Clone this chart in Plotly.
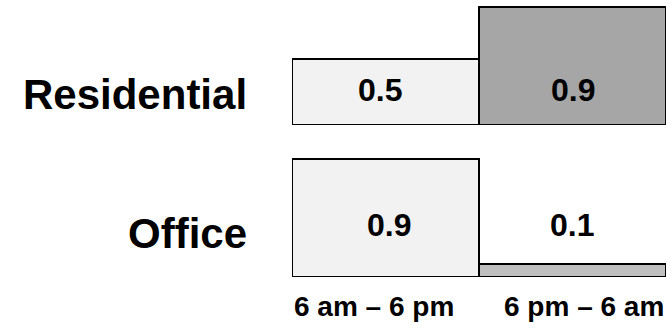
import plotly.graph_objects as go

# ---- data ----
periods = ["6 am – 6 pm", "6 pm – 6 am"]
categories = ["Residential", "Office"]
residential = [0.5, 0.9]
office = [0.9, 0.1]

# ---- styles ----
FONT = "Liberation Sans, Arial, Helvetica, sans-serif"
res_colors = ["#f2f2f2", "#a6a6a6"]
off_colors = ["#f2f2f2", "#bfbfbf"]
res_label_shift = [-6, 0]
off_label_shift = [3, -1]

fig = go.Figure()
fig.add_trace(go.Bar(x=periods, y=residential, xaxis="x", yaxis="y",
                     marker=dict(color=res_colors, line=dict(color="black", width=2)),
                     hoverinfo="skip", showlegend=False))
fig.add_trace(go.Bar(x=periods, y=office, xaxis="x2", yaxis="y2",
                     marker=dict(color=off_colors, line=dict(color="black", width=2)),
                     hoverinfo="skip", showlegend=False))

ann = []
# value labels
res_label_y = 0.266
off_label_y = 0.395
for i, v in enumerate(residential):
    ann.append(dict(x=i, y=res_label_y, xref="x", yref="y", text=f"{v}",
                    showarrow=False, xanchor="center", yanchor="middle",
                    xshift=res_label_shift[i],
                    font=dict(family=FONT, size=32, color="black", weight="bold")))
for i, v in enumerate(office):
    ann.append(dict(x=i, y=off_label_y, xref="x2", yref="y2", text=f"{v}",
                    showarrow=False, xanchor="center", yanchor="middle",
                    xshift=off_label_shift[i],
                    font=dict(family=FONT, size=32, color="black", weight="bold")))
# row labels
cat_x = -0.115
ann.append(dict(x=cat_x, y=0.228, xref="paper", yref="y", text=categories[0],
                showarrow=False, xanchor="right", yanchor="middle",
                font=dict(family=FONT, size=42, color="black", weight="bold")))
ann.append(dict(x=cat_x, y=0.334, xref="paper", yref="y2", text=categories[1],
                showarrow=False, xanchor="right", yanchor="middle",
                font=dict(family=FONT, size=42, color="black", weight="bold")))
# period labels
ann.append(dict(x=0.0, y=0.067, xref="paper", yref="paper", text=periods[0],
                showarrow=False, xanchor="left", yanchor="middle",
                font=dict(family=FONT, size=28, color="black", weight="bold")))
ann.append(dict(x=1.0, y=0.067, xref="paper", yref="paper", text=periods[1],
                showarrow=False, xanchor="right", yanchor="middle",
                font=dict(family=FONT, size=28, color="black", weight="bold")))

axis_common = dict(showgrid=False, zeroline=False, showticklabels=False,
                   showline=False, ticks="", fixedrange=True)

fig.update_layout(
    width=668, height=328,
    margin=dict(l=292, r=2, t=0, b=0),
    paper_bgcolor="white", plot_bgcolor="white",
    bargap=0,
    xaxis=dict(domain=[0, 1], anchor="y", type="category", range=[-0.5, 1.5], **axis_common),
    yaxis=dict(domain=[0.619, 1.0], anchor="x", range=[0, 0.95], **axis_common),
    xaxis2=dict(domain=[0, 1], anchor="y2", type="category", range=[-0.5, 1.5], **axis_common),
    yaxis2=dict(domain=[0.1555, 0.5366], anchor="x2", range=[0, 0.95], **axis_common),
    annotations=ann,
)

fig.write_html("out.html", config={"displayModeBar": False},
               post_script="document.body.style.margin='0';document.body.style.overflow='hidden';")
